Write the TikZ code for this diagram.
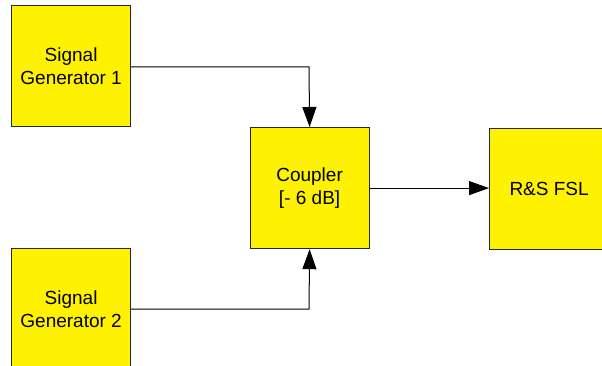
\documentclass[tikz,border=0pt]{standalone}
\usepackage{fontspec}
\setmainfont{Liberation Sans}
\usetikzlibrary{arrows.meta}
\begin{document}
\begin{tikzpicture}[x=1pt,y=-1pt,
  blk/.style={draw=black!85,line width=1.2pt,fill=yellow,minimum width=119pt,minimum height=121pt,inner sep=0pt,align=center,font=\fontsize{19}{23}\selectfont,anchor=north west},
  conn/.style={draw=black,line width=1pt,-{Triangle[length=20pt,width=14pt]}}]
\useasboundingbox (0,0) rectangle (602,366);
\fill[white] (0,0) rectangle (602,366);
\node[blk] (sg1) at (11,5) {Signal\\Generator 1};
\node[blk] (sg2) at (11,248) {Signal\\Generator 2};
\node[blk] (cpl) at (249.5,127) {Coupler\\{[- 6 dB]}};
\node[blk] (fsl) at (489,128) {R\&S FSL};
\coordinate (c1) at (309,67);
\coordinate (c2) at (309,309);
\draw[conn] (c1 -| sg1.east) -- (c1) -- (cpl.north);
\draw[conn] (c2 -| sg2.east) -- (c2) -- (cpl.south);
\draw[conn] (cpl.east) -- (fsl.west |- cpl.east);
\end{tikzpicture}
\end{document}
